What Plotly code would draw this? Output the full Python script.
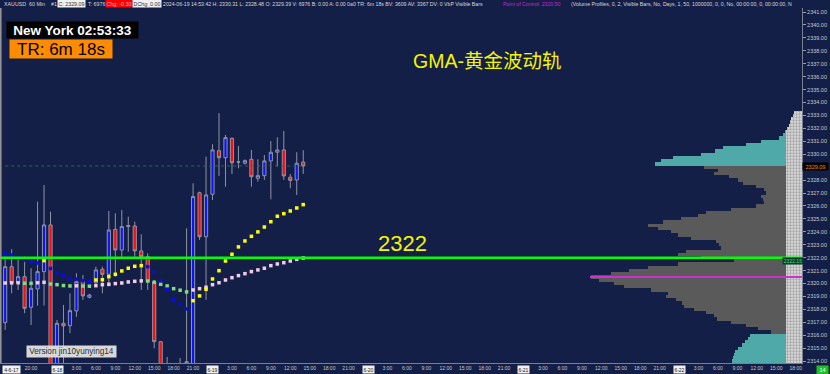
import pandas as pd
import plotly.graph_objects as go

# ---------------- data ----------------
BAR_TIMES = pd.date_range("2024-06-17 16:00", periods=47, freq="h")
OPEN = [2316.97, 2321.30, 2320.06, 2320.53, 2318.16, 2319.58, 2320.92, 2324.53, 2313.70, 2316.92,
        2316.74, 2317.88, 2320.14, 2318.93, 2320.06, 2321.10, 2320.71, 2324.19, 2322.59, 2324.40,
        2324.45, 2322.52, 2322.07, 2320.14, 2315.50, 2313.60, 2313.40, 2313.30, 2313.60, 2313.80,
        2327.02, 2323.62, 2326.90, 2330.27, 2329.73, 2331.23, 2329.40, 2329.30, 2329.61, 2328.14,
        2328.34, 2329.48, 2330.15, 2330.33, 2328.22, 2328.01, 2329.39]
HIGH = [2322.07, 2322.65, 2322.07, 2322.07, 2321.18, 2326.33, 2327.62, 2325.56, 2317.18, 2318.34,
        2319.24, 2320.79, 2320.66, 2319.20, 2321.30, 2321.30, 2325.61, 2325.43, 2325.69, 2325.17,
        2324.78, 2323.81, 2322.34, 2320.27, 2315.55, 2314.32, 2313.70, 2314.24, 2324.27, 2327.75,
        2327.10, 2329.81, 2330.77, 2333.17, 2331.49, 2331.28, 2330.64, 2329.60, 2330.33, 2329.61,
        2329.94, 2331.02, 2331.31, 2331.80, 2328.47, 2330.15, 2330.31]
LOW = [2316.41, 2319.24, 2319.50, 2317.70, 2316.79, 2318.29, 2318.29, 2313.30, 2313.30, 2313.60,
       2316.15, 2317.43, 2318.73, 2318.85, 2319.89, 2319.24, 2319.76, 2320.53, 2321.95, 2322.46,
       2322.07, 2319.50, 2319.50, 2314.99, 2313.20, 2313.10, 2313.00, 2313.00, 2313.20, 2313.40,
       2323.37, 2318.73, 2326.46, 2328.32, 2327.49, 2328.47, 2328.91, 2329.20, 2327.49, 2327.88,
       2328.01, 2326.51, 2329.04, 2328.01, 2327.37, 2326.85, 2328.48]
CLOSE = [2321.30, 2320.06, 2320.53, 2318.08, 2319.63, 2320.92, 2324.53, 2313.70, 2316.92, 2316.72,
         2317.90, 2320.14, 2319.04, 2319.11, 2321.05, 2320.71, 2324.14, 2322.59, 2324.40, 2324.48,
         2322.52, 2322.07, 2320.14, 2315.50, 2313.60, 2313.40, 2313.30, 2313.50, 2313.95, 2326.72,
         2323.62, 2326.85, 2330.33, 2329.73, 2331.28, 2329.34, 2329.40, 2329.50, 2328.26, 2328.34,
         2329.48, 2330.15, 2330.33, 2328.32, 2327.98, 2329.30, 2329.09]

GMA_FAST = [2322.34, 2322.21, 2322.01, 2321.80, 2321.65, 2321.59, 2321.77, 2321.16, 2320.84, 2320.58,
            2320.37, 2320.34, 2320.22, 2320.18, 2320.27, 2320.29, 2320.53, 2320.71, 2320.97, 2321.18,
            2321.33, 2321.38, 2321.30, 2320.87, 2320.22, 2319.55, 2318.73, 2318.39, 2318.03, 2318.67,
            2319.04, 2319.55, 2320.35, 2320.99, 2321.74, 2322.26, 2322.83, 2323.29, 2323.65, 2323.99,
            2324.37, 2324.78, 2325.20, 2325.40, 2325.61, 2325.84, 2326.10]
GMA_SLOW = [2320.04, 2320.05, 2320.06, 2320.02, 2320.01, 2320.06, 2320.09, 2319.96, 2319.91, 2319.84,
            2319.81, 2319.82, 2319.80, 2319.79, 2319.83, 2319.91, 2319.94, 2319.99, 2320.04, 2320.12,
            2320.17, 2320.20, 2320.19, 2320.09, 2319.94, 2319.81, 2319.60, 2319.48, 2319.35, 2319.50,
            2319.60, 2319.71, 2319.91, 2320.06, 2320.27, 2320.45, 2320.61, 2320.76, 2320.92, 2321.05,
            2321.18, 2321.38, 2321.51, 2321.61, 2321.74, 2321.87, 2321.97]

PROFILE_PRICES = [round(2333.25 - 0.25 * i, 2) for i in range(78)]
PROFILE_VOL = [8, 9, 11, 12, 13, 15, 17, 19, 23, 41,
               56, 79, 87, 101, 129, 141, 147, 98, 84, 88,
               73, 64, 59, 46, 38, 36, 41, 39, 38, 46,
               71, 96, 104, 121, 139, 154, 144, 131, 124, 111,
               86, 83, 81, 116, 124, 101, 68, 124, 154, 173,
               191, 211, 203, 188, 178, 151, 134, 136, 126, 120,
               118, 108, 96, 88, 85, 71, 56, 44, 31, 52,
               54, 57, 60, 64, 67, 68, 69, 70]
VA_HIGH, VA_LOW = 2329.00, 2316.25
POC = 2320.50
LAST_PRICE = 2329.09
LEVEL = 2322.00

PRICE_TICKS = list(range(2314, 2342))
HOUR_TICKS = ["2024-06-17 20:00"] + [f"2024-06-{d} {h:02d}:00" for d in range(18, 23)
                                      for h in range(3, 22, 3) if not (d == 22 and h > 18)]
HOUR_LABELS = [f"{int(t[-5:-3])}:00" for t in HOUR_TICKS]
DAY_TICKS = ["2024-06-18", "2024-06-19", "2024-06-20", "2024-06-21", "2024-06-22"]
DAY_LABELS = ["6-18", "6-19", "6-20", "6-21", "6-22"]

# ---------------- layout helpers ----------------
W, H = 830, 374
ML, MR, MT, MB = 0, 28, 8, 11
PW, PH = W - ML - MR, H - MT - MB
BG = "#141f47"
FONT = "Liberation Sans, Arial, sans-serif"


def px(x):
    return (x - ML) / PW


def py(y):
    return (H - MB - y) / PH


def slope_colors(vals, up, down):
    out = []
    for i in range(len(vals)):
        j = max(i, 1)
        out.append(up if vals[j] >= vals[j - 1] else down)
    return out


fig = go.Figure()

# volume profile (bars grow leftwards from the price axis)
prof_cols = ["#5a5a5a" if VA_LOW <= p <= VA_HIGH else "#4fa9a9" for p in PROFILE_PRICES]
fig.add_trace(go.Bar(y=PROFILE_PRICES, x=PROFILE_VOL, orientation="h", width=0.25,
                     marker=dict(color=prof_cols, line=dict(width=0)),
                     xaxis="x2", yaxis="y", hoverinfo="skip"))
fig.add_trace(go.Bar(y=PROFILE_PRICES, x=[min(v, 16) for v in PROFILE_VOL], orientation="h",
                     width=0.25,
                     marker=dict(color="#d0d0d0", line=dict(width=0),
                                 pattern=dict(shape=".", fgcolor="#6e6e6e", bgcolor="#d8d8d8",
                                              size=3, solidity=0.45)),
                     xaxis="x2", yaxis="y", hoverinfo="skip"))

# candles
fig.add_trace(go.Candlestick(
    x=BAR_TIMES, open=OPEN, high=HIGH, low=LOW, close=CLOSE,
    increasing=dict(fillcolor="#0a14ff", line=dict(color="#8f94a3", width=1)),
    decreasing=dict(fillcolor="#ff0a0a", line=dict(color="#8f94a3", width=1)),
    whiskerwidth=0, xaxis="x", yaxis="y", hoverinfo="skip"))

# GMA dots
fig.add_trace(go.Scatter(x=BAR_TIMES, y=GMA_SLOW, mode="markers",
                         marker=dict(symbol="square", size=3.5, line=dict(width=0),
                                     color=slope_colors(GMA_SLOW, "#f2cce4", "#7fdc7f")),
                         hoverinfo="skip"))
fig.add_trace(go.Scatter(x=BAR_TIMES, y=GMA_FAST, mode="markers",
                         marker=dict(symbol="square", size=3.5, line=dict(width=0),
                                     color=slope_colors(GMA_FAST, "#ffff00", "#0a0af0")),
                         hoverinfo="skip"))

shapes = [
    dict(type="line", xref="paper", x0=0, x1=1, yref="y", y0=LEVEL, y1=LEVEL,
         line=dict(color="#00ff00", width=2.5)),
    dict(type="line", xref="x", x0=BAR_TIMES[0], x1=BAR_TIMES[-1], yref="y",
         y0=LAST_PRICE, y1=LAST_PRICE, line=dict(color="#2a6a48", width=1, dash="dot")),
    dict(type="line", xref="paper", x0=px(590), x1=1, yref="y", y0=POC, y1=POC,
         line=dict(color="#d030d0", width=2)),
    dict(type="line", xref="paper", x0=0.001, x1=0.001, yref="paper", y0=0, y1=1,
         line=dict(color="#9a9a9a", width=1.5)),
]

ann = []


def add_text(text, x, y, size, color, bg=None, w=None, h=None, xanchor="left", bold=False,
             family=FONT):
    a = dict(text=f"<b>{text}</b>" if bold else text, xref="paper", yref="paper",
             x=x, y=y, xanchor=xanchor, yanchor="middle", showarrow=False,
             font=dict(size=size, color=color, family=family), borderpad=0)
    if bg:
        a["bgcolor"] = bg
    if w:
        a["width"] = w
    if h:
        a["height"] = h
    ann.append(a)


# header line
hy = py(3.5)
add_text("XAUUSD  60 Min", px(3), hy, 5.3, "#d8d8d8")
add_text("#1", px(50), hy, 5.3, "#d8d8d8")
add_text("C: 2329.09", px(71.5), hy, 5.3, "#333333", bg="#f0f0f0", w=27, h=7, xanchor="center")
add_text("T: 6976", px(87), hy, 5.3, "#d8d8d8")
add_text("Chg: -0.30", px(119), hy, 5.3, "#ffb8b8", bg="#ff0000", w=26, h=7, xanchor="center")
add_text("DChg: 0.00", px(147), hy, 5.3, "#333333", bg="#f0f0f0", w=28, h=7, xanchor="center")
add_text("2024-06-19 14:53:42 H: 2330.31 L: 2328.48 O: 2329.39 V: 6976 B: 0.00 A: 0.00 0a0 "
         "TR: 6m 18s BV: 3609 AV: 3367 DV: 0 VbP Visible Bars", px(162), hy, 5.2, "#d8d8d8")
add_text("Point of Control: 2320.50", px(502), hy, 5.2, "#d020d0")
add_text("(Volume Profiles, 0, 2, Visible Bars, No, Days, 1, 50, 1000000, 0, 0, No, 00:00:00, 0, "
         "00:00:00, N", px(570), hy, 5.2, "#d8d8d8")

# clocks
add_text("New York 02:53:33", px(72.5), py(30), 13.5, "#ffffff", bg="#000000", w=131, h=16,
         xanchor="center", bold=True)
add_text("TR: 6m 18s", px(61), py(49), 17, "#000000", bg="#ff8c00", w=102, h=18,
         xanchor="center")

# titles
add_text("GMA-黄金波动轨", px(487), py(61), 19.5, "#f5f500", xanchor="center",
         family="Liberation Sans, Noto Sans CJK SC, sans-serif")
add_text("2322", px(402), py(243.5), 22, "#f5f500", xanchor="center")
add_text("Version jin10yunying14", px(71.5), py(351.5), 8.2, "#303030", bg="#d8d8d8", w=89, h=11,
         xanchor="center")

# markers at the price axis
add_text("2322.15", px(793), py(260.5), 5, "#39e07a", bg="#0c3a2c", w=20, h=6, xanchor="center")
add_text("2329.09", px(815.5), py(166.5), 5.5, "#ff8c00", bg="#000000", w=25, h=7,
         xanchor="center")
add_text("14", px(822.5), py(369.5), 5.5, "#ffffff", bg="#20c020", w=11, h=8, xanchor="center")

# day labels
add_text("4-6-17", px(1.5), py(369), 5, "#222222", bg="#f0f0f0", w=17, h=7)
for t, lab in zip(DAY_TICKS, DAY_LABELS):
    ann.append(dict(text=lab, xref="x", x=t, yref="paper", y=py(369), xanchor="center",
                    yanchor="middle", showarrow=False, bgcolor="#f0f0f0", width=11, height=7,
                    borderpad=0, font=dict(size=5, color="#222222", family=FONT)))

fig.update_layout(
    width=W, height=H, autosize=False,
    margin=dict(l=ML, r=MR, t=MT, b=MB),
    paper_bgcolor=BG, plot_bgcolor=BG,
    showlegend=False, barmode="overlay", bargap=0,
    shapes=shapes, annotations=ann,
    xaxis=dict(type="date", range=["2024-06-17 15:12:14", "2024-06-22 18:58:12"],
               rangeslider=dict(visible=False), showgrid=False, zeroline=False,
               tickmode="array", tickvals=HOUR_TICKS, ticktext=HOUR_LABELS,
               tickfont=dict(size=5, color="#c8c8c8", family=FONT), ticks="",
               showline=True, linecolor="#7a7f8f", linewidth=1),
    xaxis2=dict(overlaying="x", range=[PW, 0], visible=False, anchor="y"),
    yaxis=dict(side="right", range=[2313.85, 2341.31], showgrid=False, zeroline=False,
               tickmode="array", tickvals=PRICE_TICKS,
               ticktext=[f"{v:.2f}" for v in PRICE_TICKS],
               tickfont=dict(size=5.5, color="#c8c8c8", family=FONT),
               ticks="outside", ticklen=3, tickcolor="#9a9a9a",
               showline=True, linecolor="#7a7f8f", linewidth=1),
)

fig.write_html("out.html", config=dict(displayModeBar=False))
